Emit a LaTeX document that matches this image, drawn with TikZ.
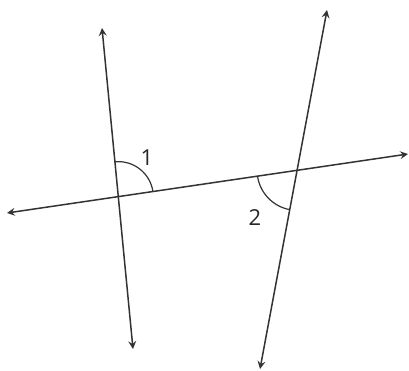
\documentclass[tikz,border=0pt]{standalone}
\usepackage{fontspec}
\setmainfont{Open Sans}
\usetikzlibrary{arrows.meta,angles}
\begin{document}
\begin{tikzpicture}[x=1pt,y=-1pt,
    line/.style={draw=black!80, line width=1.5pt,
      {Stealth[length=8pt,width=8pt,inset=3pt]}-{Stealth[length=8pt,width=8pt,inset=3pt]}},
    angle mark/.style={draw=black!80, line width=1.2pt},
    num/.style={font=\fontsize{22}{22}\selectfont, text=black!85, inner sep=0pt}]
  \useasboundingbox (0,0) rectangle (409,371);

  % End points of the three lines
  \coordinate (transL) at (7,213);
  \coordinate (transR) at (408,154);
  \coordinate (leftT) at (102,28);
  \coordinate (leftB) at (133,349);
  \coordinate (rightT) at (327,10);
  \coordinate (rightB) at (260,369);

  % Where the transversal crosses the two lines
  \coordinate (crossL) at (intersection of transL--transR and leftT--leftB);
  \coordinate (crossR) at (intersection of transL--transR and rightT--rightB);

  % Lines
  \draw[line] (transL) -- (transR);
  \draw[line] (leftT) -- (leftB);
  \draw[line] (rightT) -- (rightB);

  % Angles 1 and 2
  \pic[angle mark, angle radius=35pt] {angle = transR--crossL--leftT};
  \pic[angle mark, angle radius=40pt] {angle = transL--crossR--rightB};

  % Labels
  \node[num] (one) at (147,158) {1};
  \node[num] (two) at (255,218) {2};
\end{tikzpicture}
\end{document}
